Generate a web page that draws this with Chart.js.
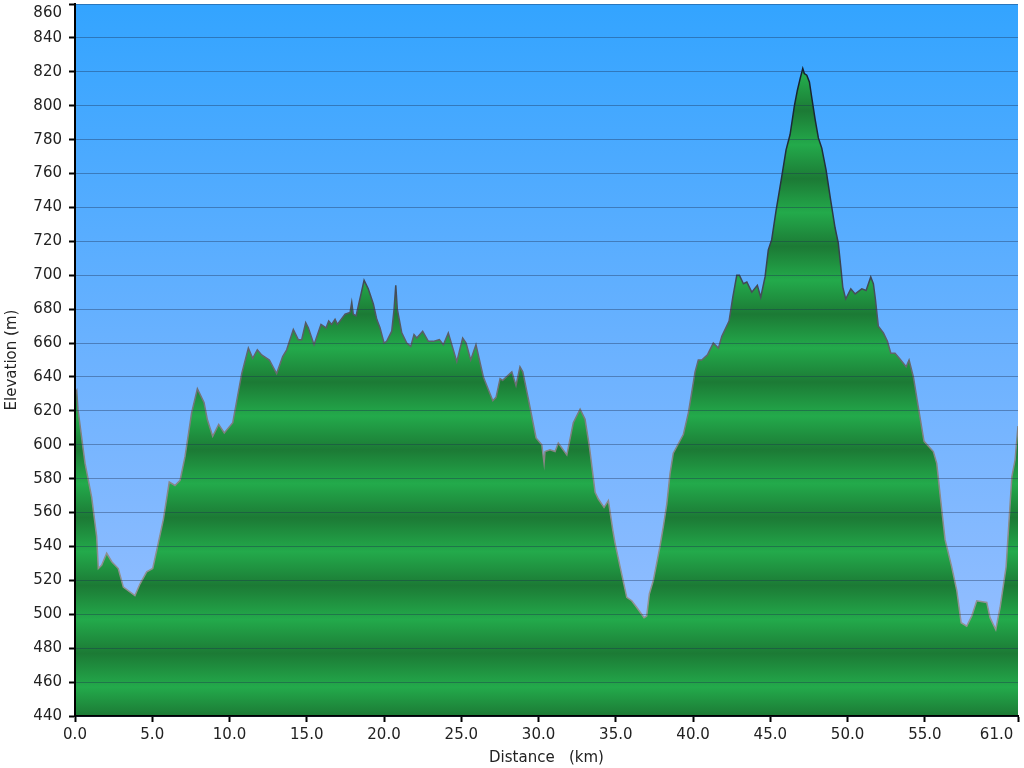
<!DOCTYPE html>
<html>
<head>
<meta charset="utf-8">
<script src="https://cdn.jsdelivr.net/npm/chart.js@4"></script>
<style>
  body { margin: 0; background: #fff; }
  canvas { display: block; }
</style>
</head>
<body>
<canvas id="profileChart" width="1024" height="768"></canvas>
<script>
// distance along the route (km) and elevation (m)
const distances = [
  0.0, 0.11, 0.19, 0.65, 1.08, 1.40, 1.51, 1.73, 2.05, 2.38, 2.80, 3.13, 3.88, 4.21, 4.64,
  5.03, 5.39, 5.72, 6.10, 6.47, 6.80, 7.12, 7.55, 7.92, 8.35, 8.56, 8.91, 9.30, 9.66, 10.21,
  10.47, 10.79, 11.22, 11.50, 11.80, 12.08, 12.58, 13.05, 13.44, 13.70, 14.13, 14.45, 14.67, 14.93, 15.10,
  15.47, 15.92, 16.25, 16.42, 16.61, 16.83, 16.98, 17.48, 17.80, 17.91, 18.01, 18.19, 18.71, 18.98, 19.31,
  19.53, 19.74, 20.00, 20.17, 20.50, 20.65, 20.76, 20.86, 21.15, 21.47, 21.73, 21.94, 22.12, 22.50, 22.87,
  23.19, 23.58, 23.84, 24.16, 24.71, 25.09, 25.31, 25.61, 25.95, 26.43, 27.04, 27.25, 27.51, 27.68, 28.27,
  28.54, 28.80, 28.98, 29.34, 29.84, 30.21, 30.36, 30.42, 30.74, 31.07, 31.28, 31.83, 32.25, 32.69, 33.01,
  33.29, 33.66, 33.87, 34.24, 34.52, 34.80, 34.95, 35.28, 35.71, 36.03, 36.36, 36.83, 37.00, 37.17, 37.43,
  37.86, 38.08, 38.30, 38.51, 38.72, 39.37, 39.70, 40.13, 40.34, 40.56, 40.93, 41.31, 41.64, 41.86, 42.33,
  42.57, 42.83, 43.00, 43.26, 43.48, 43.80, 44.16, 44.38, 44.66, 44.87, 45.09, 45.37, 45.70, 46.02, 46.28,
  46.56, 46.75, 46.93, 47.10, 47.20, 47.36, 47.53, 47.68, 47.90, 48.11, 48.33, 48.61, 48.91, 49.19, 49.40,
  49.56, 49.69, 49.88, 50.21, 50.49, 50.92, 51.20, 51.50, 51.67, 51.80, 51.99, 52.32, 52.58, 52.80, 53.07,
  53.35, 53.79, 53.98, 54.26, 54.58, 54.95, 55.55, 55.77, 56.03, 56.31, 56.74, 57.07, 57.35, 57.71, 58.04,
  58.36, 59.01, 59.22, 59.59, 59.87, 60.26, 60.63, 60.84, 61.03
];
const elevations = [
  630, 632, 621, 589, 569, 546, 527, 529, 536, 531, 527, 516, 511, 518, 525,
  527, 542, 556, 578, 576, 579, 593, 619, 633, 625, 615, 605, 612, 607, 613,
  626, 642, 657, 651, 656, 653, 650, 642, 652, 656, 668, 662, 662, 672, 669,
  659, 671, 669, 673, 671, 674, 671, 677, 678, 684, 677, 676, 697, 692, 683,
  674, 669, 660, 661, 667, 680, 694, 680, 666, 660, 658, 665, 663, 667, 661,
  661, 662, 659, 666, 649, 663, 660, 650, 659, 640, 626, 628, 639, 638, 643,
  635, 646, 643, 627, 604, 600, 589, 596, 597, 596, 601, 594, 613, 621, 615,
  599, 572, 568, 563, 567, 550, 542, 528, 510, 508, 504, 498, 499, 512, 520,
  540, 552, 565, 583, 595, 606, 619, 643, 650, 650, 653, 660, 657, 664, 673,
  687, 700, 700, 695, 696, 690, 694, 687, 699, 715, 721, 738, 756, 774, 783,
  800, 809, 816, 822, 819, 818, 814, 805, 792, 781, 775, 762, 744, 728, 719,
  705, 693, 686, 692, 689, 692, 691, 699, 695, 686, 670, 666, 661, 654, 654,
  651, 646, 650, 640, 622, 602, 596, 589, 567, 544, 528, 514, 495, 493, 499,
  508, 507, 498, 491, 504, 528, 581, 591, 611
];

const xTickValues = [0, 5, 10, 15, 20, 25, 30, 35, 40, 45, 50, 55, 61.03];
const xTickLabels = ['0.0', '5.0', '10.0', '15.0', '20.0', '25.0', '30.0', '35.0', '40.0', '45.0', '50.0', '55.0', '61.0'];
const yMin = 440, yMax = 860, yStep = 20;

const axisFont = { family: 'DejaVu Sans', size: 15 };

function bandFill(context) {
    const chart = context.chart;
    const area = chart.chartArea;
    if (!area) return null;
    const y = chart.scales.y;
    const g = chart.ctx.createLinearGradient(0, area.top, 0, area.bottom);
    for (let v = yMin; v <= yMax; v += yStep) {
        let off = (y.getPixelForValue(v - 3) - area.top) / (area.bottom - area.top);
        off = Math.min(1, Math.max(0, off));
        g.addColorStop(off, (v % 40 === 0) ? '#1c7a35' : '#23aa4b');
    }
    return g;
}

function strokeColor(context) {
    const chart = context.chart;
    const area = chart.chartArea;
    if (!area) return '#777';
    const y = chart.scales.y;
    const g = chart.ctx.createLinearGradient(0, area.top, 0, area.bottom);
    const stops = [[860, '#101a26'], [820, '#15202c'], [760, '#25303d'], [700, '#3d4652'], [660, '#5c6168'], [600, '#858585'], [440, '#9a9a9a']];
    stops.forEach(([v, c]) => {
        const off = (y.getPixelForValue(v) - area.top) / (area.bottom - area.top);
        g.addColorStop(Math.min(1, Math.max(0, off)), c);
    });
    return g;
}

const skyPlugin = {
    id: 'sky',
    beforeDraw(chart) {
        const { ctx, chartArea: a } = chart;
        ctx.save();
        ctx.fillStyle = '#fff';
        ctx.fillRect(0, 0, chart.width, chart.height);
        const g = ctx.createLinearGradient(0, a.top, 0, a.bottom);
        g.addColorStop(0, '#33a4ff');
        g.addColorStop(0.5, '#6cb2ff');
        g.addColorStop(1, '#9ec1ff');
        ctx.fillStyle = g;
        ctx.fillRect(a.left, a.top, a.right - a.left, a.bottom - a.top);
        ctx.restore();
    }
};

new Chart(document.getElementById('profileChart').getContext('2d'), {
    type: 'line',
    data: {
        datasets: [{
            data: distances.map((d, i) => ({ x: d, y: elevations[i] })),
            fill: 'start',
            backgroundColor: bandFill,
            borderColor: strokeColor,
            borderWidth: 1.5,
            pointRadius: 0,
            tension: 0
        }]
    },
    options: {
        responsive: false,
        animation: false,
        layout: { padding: { top: 4, right: 6, left: 0, bottom: 0 } },
        plugins: { legend: { display: false }, tooltip: { enabled: false } },
        scales: {
            x: {
                type: 'linear',
                min: 0,
                max: xTickValues[xTickValues.length - 1],
                afterBuildTicks: s => { s.ticks = xTickValues.map(v => ({ value: v })); },
                afterFit: s => { s.height = 52; s.paddingLeft = 0; s.paddingRight = 0; },
                ticks: {
                    autoSkip: false, maxRotation: 0, padding: 4, color: '#222', font: axisFont,
                    callback: (v, i) => xTickLabels[i] + (i === xTickLabels.length - 1 ? '         ' : '')
                },
                grid: { drawOnChartArea: false, tickLength: 6, tickColor: '#000', tickWidth: 2 },
                border: { color: '#000', width: 2, z: 1 },
                title: { display: true, text: 'Distance   (km)', color: '#222', font: axisFont, padding: { top: 2, bottom: 1 } }
            },
            y: {
                min: yMin,
                max: yMax,
                afterFit: s => { s.width = 75; s.paddingTop = 0; s.paddingBottom = 0; },
                ticks: {
                    autoSkip: false, stepSize: yStep, padding: 7, color: '#222', font: axisFont,
                    callback: v => v === yMax ? ['', String(v)] : String(v)
                },
                grid: { color: 'rgba(25,45,80,0.38)', lineWidth: 1, tickLength: 6, tickColor: '#000', tickWidth: 2, z: 1 },
                border: { color: '#000', width: 2, z: 1 },
                title: { display: true, text: 'Elevation (m)', color: '#222', font: axisFont, padding: { top: 3, bottom: 4 } }
            }
        }
    },
    plugins: [skyPlugin]
});
</script>
</body>
</html>
